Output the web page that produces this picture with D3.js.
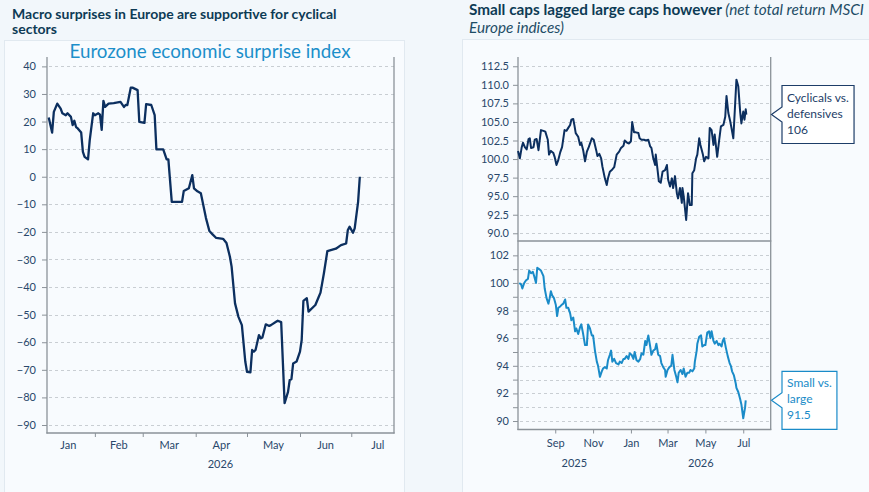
<!DOCTYPE html>
<html>
<head>
<meta charset="utf-8">
<script src="https://cdn.jsdelivr.net/npm/d3@7"></script>
<style>
  body { margin: 0; background: #f2f7fb; }
  svg { display: block; font-family: Lato, "Open Sans", sans-serif; }
</style>
</head>
<body>
<svg id="chart" width="869" height="492"></svg>
<script>
// Eurozone economic surprise index (left panel)
var surprise = [
  ["2026-01-05",21.5],["2026-01-07",16],["2026-01-08",23.5],["2026-01-10",26.5],["2026-01-12",24.7],
  ["2026-01-13",23],["2026-01-15",22.3],["2026-01-16",23],["2026-01-18",21.7],["2026-01-19",18.7],
  ["2026-01-20",20.3],["2026-01-21",18],["2026-01-22",17.5],["2026-01-24",16],["2026-01-25",9],
  ["2026-01-26",7.2],["2026-01-28",6.3],["2026-01-29",13.3],["2026-01-31",23],["2026-02-01",22.3],
  ["2026-02-03",23],["2026-02-04",22.5],["2026-02-05",17],["2026-02-06",27.5],["2026-02-07",25.3],
  ["2026-02-09",26.5],["2026-02-12",26.7],["2026-02-16",27.1],["2026-02-18",25.3],["2026-02-19",26],
  ["2026-02-20",26],["2026-02-22",32.3],["2026-02-23",32.3],["2026-02-26",31.4],["2026-02-27",19.9],
  ["2026-03-02",19.5],["2026-03-03",26.3],["2026-03-06",26],["2026-03-08",22.3],["2026-03-09",9.9],
  ["2026-03-13",9.9],["2026-03-15",6.3],["2026-03-16",6.3],["2026-03-18",-9.1],["2026-03-24",-9.1],
  ["2026-03-25",-5.2],["2026-03-28",-4.2],["2026-03-30",0.6],["2026-03-31",-4.2],["2026-04-02",-5.3],
  ["2026-04-04",-6],["2026-04-07",-15],["2026-04-09",-19.7],["2026-04-11",-21],["2026-04-13",-22.2],
  ["2026-04-17",-22.5],["2026-04-19",-24],["2026-04-21",-29],["2026-04-22",-32.6],["2026-04-24",-45.9],
  ["2026-04-26",-50.8],["2026-04-28",-53.8],["2026-04-30",-67],["2026-05-01",-70.7],["2026-05-03",-70.9],
  ["2026-05-04",-62.8],["2026-05-05",-63.4],["2026-05-06",-62.8],["2026-05-08",-57.4],["2026-05-09",-58.6],
  ["2026-05-10",-58.3],["2026-05-12",-53.5],["2026-05-14",-54.1],["2026-05-15",-53.8],["2026-05-18",-52.6],
  ["2026-05-19",-52.2],["2026-05-21",-52.7],["2026-05-23",-82.1],["2026-05-25",-78],["2026-05-26",-73.7],
  ["2026-05-27",-73.4],["2026-05-28",-67.7],["2026-05-30",-67],["2026-06-01",-63.4],["2026-06-02",-59.2],
  ["2026-06-03",-45],["2026-06-05",-44],["2026-06-06",-48.9],["2026-06-10",-46.5],["2026-06-12",-43.5],
  ["2026-06-13",-42],["2026-06-15",-35],["2026-06-17",-27],["2026-06-22",-26.1],["2026-06-25",-24.8],
  ["2026-06-28",-24.2],["2026-06-29",-19.3],["2026-06-30",-18.1],["2026-07-02",-20.3],["2026-07-03",-18.7],
  ["2026-07-05",-9.1],["2026-07-06",0]
];
var surpriseTicks = [40,30,20,10,0,-10,-20,-30,-40,-50,-60,-70,-80,-90];

// Cyclicals vs. defensives (right, top)
var cyclicals = [
  ["2025-07-03",101.1],["2025-07-06",100.1],["2025-07-09",101.6],["2025-07-11",102.2],["2025-07-14",101.6],
  ["2025-07-17",101.3],["2025-07-20",102.7],["2025-07-22",102.8],["2025-07-24",101.5],["2025-07-28",101.6],
  ["2025-07-30",102.6],["2025-08-02",102.7],["2025-08-05",101.2],["2025-08-09",103.9],["2025-08-13",103.8],
  ["2025-08-16",103.7],["2025-08-20",102.6],["2025-08-22",100.6],["2025-08-25",101.1],["2025-08-29",100.8],
  ["2025-08-31",100.3],["2025-09-03",99.2],["2025-09-06",99.9],["2025-09-09",100.9],["2025-09-12",101.6],
  ["2025-09-16",103.9],["2025-09-19",103.8],["2025-09-22",104.2],["2025-09-25",104.6],["2025-09-27",105.3],
  ["2025-09-30",105.4],["2025-10-02",104.5],["2025-10-04",103.5],["2025-10-08",103.0],["2025-10-11",101.9],
  ["2025-10-13",102.2],["2025-10-16",101.2],["2025-10-19",99.7],["2025-10-22",101.0],["2025-10-25",101.6],
  ["2025-10-30",102.8],["2025-11-02",102.6],["2025-11-06",101.2],["2025-11-08",100.4],["2025-11-11",100.7],
  ["2025-11-14",100.1],["2025-11-16",99.0],["2025-11-20",97.4],["2025-11-23",96.5],["2025-11-25",97.4],
  ["2025-11-28",98.3],["2025-12-02",98.6],["2025-12-05",98.9],["2025-12-09",100.6],["2025-12-13",101.0],
  ["2025-12-16",101.5],["2025-12-20",101.8],["2025-12-22",102.5],["2025-12-26",102.2],["2025-12-29",102.1],
  ["2026-01-01",102.4],["2026-01-03",105.0],["2026-01-06",103.6],["2026-01-09",103.6],["2026-01-13",103.5],
  ["2026-01-15",102.8],["2026-01-18",102.6],["2026-01-22",102.6],["2026-01-25",102.5],["2026-01-29",102.6],
  ["2026-02-01",101.7],["2026-02-03",101.5],["2026-02-06",100.1],["2026-02-09",99.2],["2026-02-10",100.6],
  ["2026-02-12",99.2],["2026-02-15",97.0],["2026-02-18",96.8],["2026-02-21",98.3],["2026-02-25",98.5],
  ["2026-02-28",99.2],["2026-03-02",97.2],["2026-03-05",96.3],["2026-03-08",97.4],["2026-03-10",96.1],
  ["2026-03-13",97.7],["2026-03-16",95.4],["2026-03-18",94.7],["2026-03-21",96.1],["2026-03-24",94.1],
  ["2026-03-25",96.1],["2026-03-27",95.0],["2026-03-31",91.8],["2026-04-03",95.4],["2026-04-06",93.8],
  ["2026-04-09",93.8],["2026-04-10",98.1],["2026-04-13",98.5],["2026-04-16",100.1],["2026-04-18",100.6],
  ["2026-04-21",102.8],["2026-04-23",101.9],["2026-04-27",100.6],["2026-04-29",99.7],["2026-05-02",100.3],
  ["2026-05-06",100.1],["2026-05-08",104.2],["2026-05-11",103.9],["2026-05-14",101.9],["2026-05-16",103.3],
  ["2026-05-20",100.3],["2026-05-23",102.4],["2026-05-26",104.4],["2026-05-30",104.6],["2026-06-02",105.7],
  ["2026-06-04",108.5],["2026-06-07",106.2],["2026-06-10",105.1],["2026-06-12",104.2],["2026-06-15",102.8],
  ["2026-06-18",107.5],["2026-06-20",110.7],["2026-06-23",109.8],["2026-06-26",106.4],["2026-06-28",104.8],
  ["2026-07-01",106.4],["2026-07-03",105.3],["2026-07-05",106.7],["2026-07-06",106.0]
];
var cyclicalTicks = [90,92.5,95,97.5,100,102.5,105,107.5,110,112.5];

// Small vs. large (right, bottom)
var smallLarge = [
  ["2025-07-05",100.0],["2025-07-08",99.9],["2025-07-10",99.6],["2025-07-13",100.0],["2025-07-16",100.2],
  ["2025-07-19",100.3],["2025-07-21",100.9],["2025-07-24",100.7],["2025-07-27",100.8],["2025-07-29",100.5],
  ["2025-08-01",100.0],["2025-08-03",101.1],["2025-08-06",101.0],["2025-08-09",100.9],["2025-08-13",100.5],
  ["2025-08-15",99.6],["2025-08-18",98.9],["2025-08-21",98.5],["2025-08-23",98.9],["2025-08-25",99.4],
  ["2025-08-27",99.1],["2025-08-30",98.9],["2025-09-02",98.4],["2025-09-04",97.6],["2025-09-06",98.2],
  ["2025-09-09",98.3],["2025-09-11",98.4],["2025-09-14",98.5],["2025-09-17",98.8],["2025-09-19",98.2],
  ["2025-09-22",98.2],["2025-09-25",97.8],["2025-09-27",97.3],["2025-09-30",97.5],["2025-10-03",96.5],
  ["2025-10-05",96.7],["2025-10-08",96.3],["2025-10-11",96.8],["2025-10-13",97.0],["2025-10-16",96.3],
  ["2025-10-19",95.5],["2025-10-22",95.5],["2025-10-24",97.0],["2025-10-27",96.7],["2025-10-30",96.2],
  ["2025-11-01",96.2],["2025-11-04",95.1],["2025-11-07",94.3],["2025-11-09",94.0],["2025-11-12",93.2],
  ["2025-11-15",93.6],["2025-11-17",93.8],["2025-11-20",93.9],["2025-11-23",93.8],["2025-11-25",94.4],
  ["2025-11-28",94.8],["2025-11-30",95.1],["2025-12-02",94.3],["2025-12-05",94.5],["2025-12-08",94.2],
  ["2025-12-12",94.1],["2025-12-14",94.3],["2025-12-17",94.2],["2025-12-20",94.5],["2025-12-22",94.5],
  ["2025-12-25",94.7],["2025-12-28",94.5],["2025-12-30",94.9],["2026-01-02",94.8],["2026-01-05",94.5],
  ["2026-01-07",95.0],["2026-01-10",94.4],["2026-01-13",94.3],["2026-01-16",94.5],["2026-01-18",94.9],
  ["2026-01-21",94.8],["2026-01-24",95.8],["2026-01-26",95.5],["2026-01-29",96.2],["2026-02-01",95.4],
  ["2026-02-03",94.8],["2026-02-06",95.1],["2026-02-09",95.2],["2026-02-11",95.6],["2026-02-14",94.8],
  ["2026-02-17",94.7],["2026-02-19",94.2],["2026-02-22",93.9],["2026-02-25",93.7],["2026-02-26",93.2],
  ["2026-03-01",93.7],["2026-03-04",93.9],["2026-03-07",94.0],["2026-03-09",94.8],["2026-03-12",93.7],
  ["2026-03-15",93.2],["2026-03-17",92.8],["2026-03-19",93.5],["2026-03-22",93.7],["2026-03-25",93.4],
  ["2026-03-27",93.8],["2026-03-30",93.2],["2026-04-02",93.5],["2026-04-05",93.5],["2026-04-07",93.7],
  ["2026-04-10",93.6],["2026-04-13",93.8],["2026-04-14",94.3],["2026-04-17",95.1],["2026-04-18",95.6],
  ["2026-04-21",96.1],["2026-04-24",96.2],["2026-04-26",95.4],["2026-04-29",95.5],["2026-05-01",95.5],
  ["2026-05-04",96.4],["2026-05-07",96.5],["2026-05-09",96.0],["2026-05-11",96.5],["2026-05-14",95.8],
  ["2026-05-16",95.6],["2026-05-19",95.8],["2026-05-22",95.5],["2026-05-24",95.6],["2026-05-27",95.4],
  ["2026-05-29",95.8],["2026-05-31",96.0],["2026-06-03",95.3],["2026-06-06",94.7],["2026-06-09",94.2],
  ["2026-06-11",94.0],["2026-06-13",93.6],["2026-06-16",93.3],["2026-06-19",92.7],["2026-06-20",92.4],
  ["2026-06-23",92.1],["2026-06-26",91.6],["2026-06-28",91.2],["2026-07-01",90.2],["2026-07-04",91.0],
  ["2026-07-05",91.5]
];
var smallTicks = d3.range(90, 103);

var leftTitle = ["Macro surprises in Europe are supportive for cyclical", "sectors"];
var rightTitleBold = "Small caps lagged large caps however";
var rightTitleItalic = ["(net total return MSCI", "Europe indices)"];
var chartTitle = "Eurozone economic surprise index";
var cycLabel = ["Cyclicals vs.", "defensives"];
var smallLabel = ["Small vs.", "large"];

var parse = d3.timeParse("%Y-%m-%d");
var NAVY = "#0c2f5f", BLUE = "#1a8bc8", INK = "#29476a", TITLE = "#0d3b55", AXIS = "#8b9299", GRID = "#c9ced3";

var svg = d3.select("#chart");

// panel boxes
svg.append("rect").attr("x", 4.5).attr("y", 40.5).attr("width", 400).attr("height", 470)
  .attr("fill", "#f8fbfe").attr("stroke", "#e1e9f0");
svg.append("rect").attr("x", 462.5).attr("y", 39.5).attr("width", 430).attr("height", 470)
  .attr("fill", "#f8fbfe").attr("stroke", "#e1e9f0");

// titles
svg.append("text").attr("x", 12).attr("y", 19).attr("fill", TITLE)
  .style("font-weight", "bold").style("font-size", "14px")
  .selectAll("tspan").data(leftTitle).enter().append("tspan")
  .attr("x", 12).attr("dy", function(d, i){ return i ? 15.3 : 0; })
  .text(function(d){ return d; });

var rt = svg.append("text").attr("x", 469).attr("y", 15).attr("fill", TITLE).style("font-size", "15.3px");
rt.append("tspan").style("font-weight", "bold").text(rightTitleBold + " ");
rt.append("tspan").style("font-style", "italic").attr("fill", "#1e4d66").text(rightTitleItalic[0]);
rt.append("tspan").attr("x", 469).attr("dy", 18.3).style("font-style", "italic").attr("fill", "#1e4d66").text(rightTitleItalic[1]);

svg.append("text").attr("x", 210).attr("y", 57.5).attr("text-anchor", "middle")
  .attr("fill", "#1c8fca").style("font-size", "18.8px").text(chartTitle);

function styleAxis(g){
  g.select(".domain").remove();
  g.selectAll(".tick line").attr("stroke", AXIS);
  g.selectAll(".tick text").attr("fill", INK).style("font-size", "11px").style("font-family", "Lato, sans-serif");
}

function grid(yScale, ticks, x0, x1){
  svg.append("g").selectAll("line").data(ticks).enter().append("line")
    .attr("x1", x0 + 2).attr("x2", x1)
    .attr("y1", function(d){ return Math.round(yScale(d)) + 0.5; })
    .attr("y2", function(d){ return Math.round(yScale(d)) + 0.5; })
    .attr("stroke", GRID).attr("stroke-dasharray", "3,3");
}

function frameLine(x1, y1, x2, y2){
  svg.append("line").attr("x1", x1).attr("y1", y1).attr("x2", x2).attr("y2", y2)
    .attr("stroke", AXIS).attr("stroke-width", 1.3);
}

// ---------- left chart ----------
var xL = d3.scaleTime().domain([new Date(2026, 0, 4), new Date(2026, 6, 26)]).range([47, 394]);
var yL = d3.scaleLinear().domain([-92.9, 43.4]).range([433, 57]);

grid(yL, surpriseTicks, 47, 394);

svg.append("g").attr("transform", "translate(47,0)")
  .call(d3.axisLeft(yL).tickValues(surpriseTicks).tickSize(5).tickPadding(6).tickSizeOuter(0))
  .call(styleAxis);

var monthsL = d3.timeMonth.range(new Date(2026, 0, 1), new Date(2026, 7, 1));
svg.append("g").attr("transform", "translate(0,433)")
  .call(d3.axisBottom(xL).tickValues(monthsL.slice(1)).tickSize(4).tickFormat("").tickSizeOuter(0))
  .call(styleAxis);

svg.append("g").selectAll("text").data(monthsL).enter().append("text")
  .attr("x", function(d){ return (xL(d) + xL(d3.timeMonth.offset(d, 1))) / 2; })
  .attr("y", 449).attr("text-anchor", "middle").attr("fill", INK).style("font-size", "11px")
  .text(d3.timeFormat("%b"));
svg.append("text").attr("x", (xL.range()[0] + xL.range()[1]) / 2).attr("y", 467.5)
  .attr("text-anchor", "middle").attr("fill", INK).style("font-size", "11px").text("2026");

frameLine(47, 57, 47, 433.6);
frameLine(46.4, 433, 394.6, 433);
frameLine(394, 57, 394, 433.6);

var lineL = d3.line().x(function(d){ return xL(parse(d[0])); }).y(function(d){ return yL(d[1]); });
svg.append("path").datum(surprise).attr("d", lineL).attr("fill", "none")
  .attr("stroke", NAVY).attr("stroke-width", 2.3).attr("stroke-linejoin", "round");

// ---------- right charts ----------
var xR = d3.scaleTime().domain([new Date(2025, 6, 2, 12), new Date(2026, 7, 14, 6)]).range([517.7, 770.7]);
var yTop = d3.scaleLinear().domain([88.96, 113.75]).range([241, 57]);
var yBot = d3.scaleLinear().domain([89.4, 103.04]).range([429.3, 241]);

grid(yTop, cyclicalTicks, 518, 770);
grid(yBot, smallTicks, 518, 770);

svg.append("g").attr("transform", "translate(518,0)")
  .call(d3.axisLeft(yTop).tickValues(cyclicalTicks).tickSize(5).tickPadding(4)
    .tickFormat(d3.format(".1f")).tickSizeOuter(0))
  .call(styleAxis);
svg.append("g").attr("transform", "translate(518,0)")
  .call(d3.axisLeft(yBot).tickValues(smallTicks).tickSize(5).tickPadding(4)
    .tickFormat(function(d){ return d % 2 === 0 ? d : ""; }).tickSizeOuter(0))
  .call(styleAxis);

// every second month, from Sep 2025
var monthsR = d3.timeMonth.range(new Date(2025, 8, 1), new Date(2026, 7, 1), 2);
svg.append("g").attr("transform", "translate(0,429.5)")
  .call(d3.axisBottom(xR).tickValues(monthsR).tickSize(4).tickPadding(6)
    .tickFormat(d3.timeFormat("%b")).tickSizeOuter(0))
  .call(styleAxis);

var years = [2025, 2026];
svg.append("g").selectAll("text").data(years).enter().append("text")
  .attr("x", function(y){
    var a = d3.max([xR.domain()[0], new Date(y, 0, 1)]);
    var b = d3.min([xR.domain()[1], new Date(y + 1, 0, 1)]);
    return (xR(a) + xR(b)) / 2;
  })
  .attr("y", 467).attr("text-anchor", "middle").attr("fill", INK).style("font-size", "11px")
  .text(function(d){ return d; });

frameLine(518, 57, 518, 430);
frameLine(517.4, 241, 771.3, 241);
frameLine(517.4, 429.5, 771.3, 429.5);
frameLine(770.7, 57, 770.7, 430);

var lineTop = d3.line().x(function(d){ return xR(parse(d[0])); }).y(function(d){ return yTop(d[1]); });
var lineBot = d3.line().x(function(d){ return xR(parse(d[0])); }).y(function(d){ return yBot(d[1]); });
svg.append("path").datum(cyclicals).attr("d", lineTop).attr("fill", "none")
  .attr("stroke", NAVY).attr("stroke-width", 2).attr("stroke-linejoin", "round");
svg.append("path").datum(smallLarge).attr("d", lineBot).attr("fill", "none")
  .attr("stroke", BLUE).attr("stroke-width", 2).attr("stroke-linejoin", "round");

// ---------- callouts ----------
function callout(series, yScale, lines, color, fmt){
  var last = series[series.length - 1][1];
  var tipX = 771.5, tipY = yScale(last), left = 782, top = tipY - 29, bottom = tipY + 29;
  var g = svg.append("g");
  var path = g.append("path");
  var txt = g.append("text").attr("fill", color).style("font-size", "12px");
  lines.concat([fmt(last)]).forEach(function(s, i){
    txt.append("tspan").attr("x", left + 5).attr("y", tipY - 13 + 16 * i).text(s);
  });
  var w = txt.node().getBBox().width + 10;
  path.attr("d", "M" + left + "," + top + "H" + (left + w) + "V" + bottom + "H" + left +
      "V" + (tipY + 7.5) + "L" + tipX + "," + tipY + "L" + left + "," + (tipY - 7.5) + "Z")
    .attr("fill", "#fff").attr("stroke", color).attr("stroke-width", 1.2);
}
callout(cyclicals, yTop, cycLabel, "#1d3d68", d3.format("d"));
callout(smallLarge, yBot, smallLabel, BLUE, d3.format(".1f"));
</script>
</body>
</html>
